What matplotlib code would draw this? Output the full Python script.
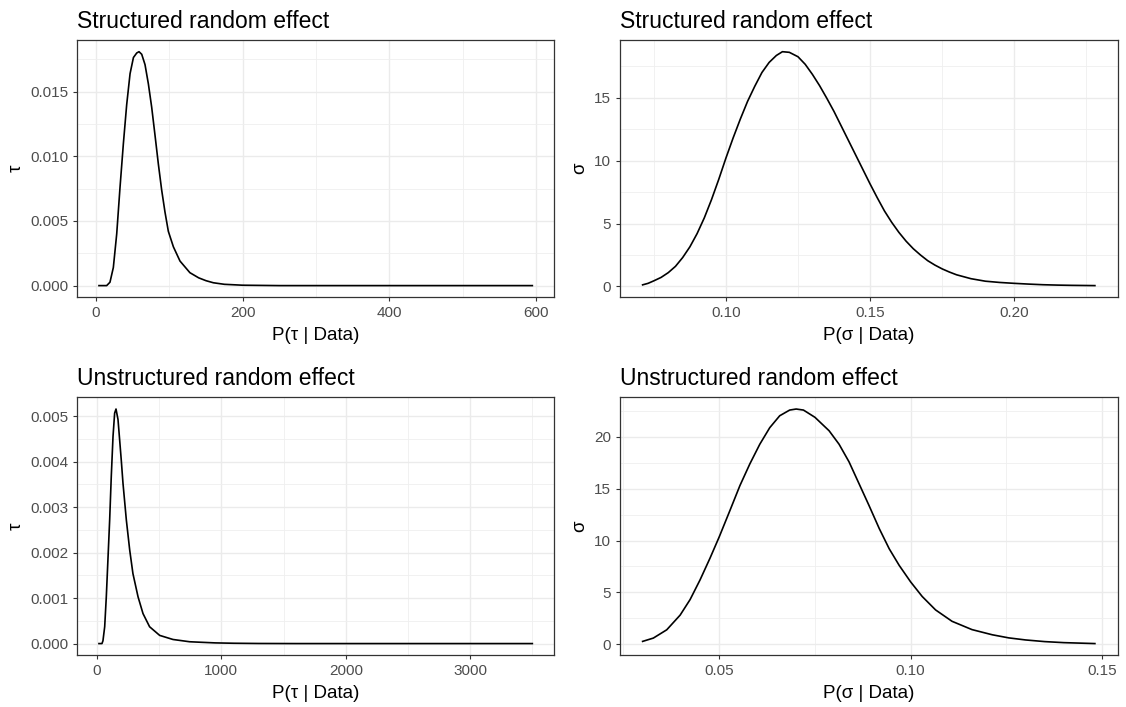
import matplotlib
matplotlib.use("Agg")
import matplotlib.pyplot as plt
from matplotlib.ticker import MultipleLocator, FormatStrFormatter

plt.rcParams['font.family'] = ['Liberation Sans', 'DejaVu Sans']

# posterior densities
# structured effect, precision tau
tau_s_x = [4, 14.5, 19, 23.6, 28.2, 32.7, 37.3, 41.8, 46.4, 51, 55.5, 58.6, 62.3, 66.8, 71.4,
           75.9, 80.5, 85, 89.5, 94, 98.6, 105.5, 114.5, 128, 140, 150, 160, 175, 200, 250,
           300, 400, 500, 595]
tau_s_y = [0, 0, 0.00026, 0.0014, 0.0040, 0.0076, 0.0110, 0.0140, 0.0164, 0.01765, 0.0180,
           0.0181, 0.0179, 0.0171, 0.0156, 0.0138, 0.0116, 0.0094, 0.0074, 0.0057, 0.0042,
           0.0030, 0.0019, 0.0010, 0.0006, 0.00038, 0.00022, 0.0001, 0.00003, 0,
           0, 0, 0, 0]

# structured effect, sd sigma
sig_s_x = [0.0711, 0.073, 0.075, 0.0775, 0.080, 0.0825, 0.085, 0.0875, 0.090, 0.0925, 0.095,
           0.0975, 0.100, 0.1025, 0.105, 0.1075, 0.110, 0.1125, 0.115, 0.1175, 0.1196, 0.122,
           0.125, 0.1275, 0.130, 0.1325, 0.135, 0.1375, 0.140, 0.1425, 0.145, 0.1475, 0.150,
           0.1525, 0.155, 0.1575, 0.160, 0.1625, 0.165, 0.1675, 0.170, 0.1725, 0.175, 0.1775,
           0.180, 0.185, 0.190, 0.195, 0.200, 0.205, 0.210, 0.215, 0.220, 0.228]
sig_s_y = [0.13, 0.25, 0.45, 0.72, 1.1, 1.6, 2.3, 3.15, 4.2, 5.45, 6.9,
           8.5, 10.2, 11.8, 13.3, 14.7, 15.9, 17.0, 17.8, 18.35, 18.65, 18.6,
           18.25, 17.65, 16.85, 15.95, 14.95, 13.9, 12.75, 11.6, 10.45, 9.3, 8.15,
           7.05, 6.0, 5.1, 4.3, 3.6, 3.0, 2.5, 2.05, 1.7, 1.4, 1.15,
           0.93, 0.62, 0.42, 0.32, 0.25, 0.19, 0.14, 0.11, 0.09, 0.07]

# unstructured effect, precision tau
tau_u_x = [16, 40, 48, 62, 75, 88, 102, 115, 129, 142, 153, 169, 182, 196, 209, 236, 263,
           289, 330, 370, 423, 504, 611, 745, 825, 950, 1100, 1300, 1600, 2000, 2500, 3000, 3500]
tau_u_y = [0, 0, 0.00006, 0.00037, 0.00103, 0.00184, 0.00272, 0.00368, 0.00456, 0.00507,
           0.00516, 0.00493, 0.00449, 0.00401, 0.00353, 0.00272, 0.00206, 0.00154, 0.00103,
           0.00066, 0.00037, 0.00018, 0.00009, 0.00004, 0.00003, 0.000015, 0.000007,
           0.000002, 0, 0, 0, 0, 0]

# unstructured effect, sd sigma
sig_u_x = [0.0300, 0.0328, 0.0363, 0.0398, 0.0424, 0.045, 0.0476, 0.050, 0.0528, 0.0554,
           0.058, 0.0606, 0.0632, 0.0658, 0.0684, 0.0701, 0.072, 0.075, 0.0787, 0.0813,
           0.0839, 0.0865, 0.0891, 0.0918, 0.0944, 0.097, 0.100, 0.103, 0.1065, 0.1108,
           0.116, 0.1213, 0.1256, 0.130, 0.135, 0.140, 0.1481]
sig_u_y = [0.26, 0.58, 1.38, 2.8, 4.3, 6.2, 8.3, 10.35, 12.9, 15.3,
           17.4, 19.3, 20.9, 22.05, 22.6, 22.7, 22.6, 21.9, 20.6, 19.3,
           17.6, 15.5, 13.4, 11.15, 9.2, 7.6, 6.0, 4.6, 3.3, 2.2,
           1.4, 0.9, 0.6, 0.4, 0.24, 0.14, 0.05]

W, H = 1126, 707
fig = plt.figure(figsize=(W / 100, H / 100), dpi=100)


def panel(box, x, y, title, sym, xmaj, ymaj, xfmt, yfmt):
    l, t, r, b = box
    ax = fig.add_axes([l / W, 1 - b / H, (r - l) / W, (b - t) / H])
    ax.plot(x, y, color='black', lw=1.2)
    ax.margins(0.05)
    ax.xaxis.set_major_locator(MultipleLocator(xmaj))
    ax.xaxis.set_minor_locator(MultipleLocator(xmaj / 2))
    ax.yaxis.set_major_locator(MultipleLocator(ymaj))
    ax.yaxis.set_minor_locator(MultipleLocator(ymaj / 2))
    ax.xaxis.set_major_formatter(FormatStrFormatter(xfmt))
    ax.yaxis.set_major_formatter(FormatStrFormatter(yfmt))
    ax.grid(which='major', color='#EBEBEB', lw=1.0)
    ax.grid(which='minor', color='#EFEFEF', lw=0.6)
    ax.set_axisbelow(True)
    for s in ax.spines.values():
        s.set_color('#333333')
        s.set_linewidth(0.9)
    ax.tick_params(which='major', length=3, width=0.8, color='#333333',
                   labelsize=11, labelcolor='#4D4D4D', pad=3.5)
    ax.tick_params(which='minor', length=0)
    ax.set_title(title, loc='left', fontsize=16.5, pad=8.5)
    ax.set_xlabel('P(%s | Data)' % sym, fontsize=13.5, labelpad=4.5)
    ax.set_ylabel(sym, fontsize=13.5, labelpad=4)
    return ax


panel((77.3, 40, 554, 297.3), tau_s_x, tau_s_y, 'Structured random effect', '\u03c4',
      200, 0.005, '%d', '%.3f')
panel((620, 40, 1117.5, 297.3), sig_s_x, sig_s_y, 'Structured random effect', '\u03c3',
      0.05, 5, '%.2f', '%d')
panel((77.3, 397.3, 554, 655.3), tau_u_x, tau_u_y, 'Unstructured random effect', '\u03c4',
      1000, 0.001, '%d', '%.3f')
panel((620, 397.3, 1117.5, 655.3), sig_u_x, sig_u_y, 'Unstructured random effect', '\u03c3',
      0.05, 5, '%.2f', '%d')

fig.savefig('out.png', dpi=100, facecolor='white')
